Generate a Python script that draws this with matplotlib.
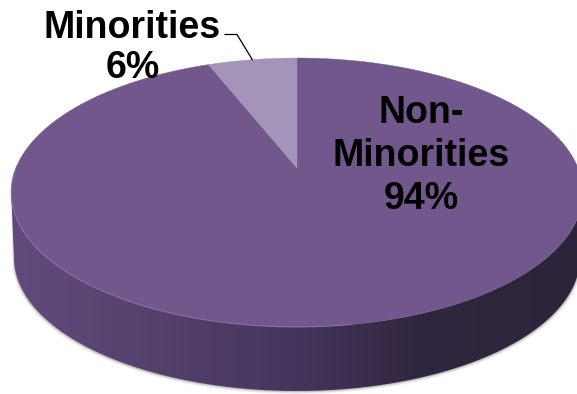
import numpy as np
import matplotlib
matplotlib.use("Agg")
import matplotlib.pyplot as plt
from matplotlib.colors import LinearSegmentedColormap
from matplotlib.patches import Polygon

plt.rcParams["font.family"] = ["Liberation Sans", "DejaVu Sans"]

# Shares of the pie, clockwise from twelve o'clock
categories = ["Non-\nMinorities", "Minorities"]
shares = [94, 6]
slice_colors = ["#71578C", "#A594BA"]

# Layout of the tilted disc, in pixels
W, H = 577, 394
CX, CY = 297.0, 168.0
K, A, C = 281.0, 130.0, 0.182


def rim(t, scale=1.0, drop=0.0):
    """Project a point of the unit circle (t clockwise from the top) with perspective."""
    x, y = np.sin(t), np.cos(t)
    d = 1 + C * y
    return np.column_stack((CX + scale * K * x / d, CY + drop - scale * A * y / d))


fig = plt.figure(figsize=(W / 100, H / 100), dpi=100)
ax = fig.add_axes([0, 0, 1, 1])
ax.set_xlim(0, W)
ax.set_ylim(H, 0)
ax.axis("off")

# Front of the cylinder
t0 = np.arccos(-C)
front = np.linspace(t0, 2 * np.pi - t0, 300)
SCALE, DROP = 0.99, 65.6
lower = rim(front, SCALE, DROP)
upper = rim(front)

# Soft shadow just outside the lower edge
for grow, alpha in [(3.0, 0.05), (2.2, 0.08), (1.4, 0.12), (0.7, 0.18)]:
    halo = lower + np.column_stack((np.sign(lower[:, 0] - CX) * grow * 0.6,
                                    np.full(len(lower), grow)))
    ax.add_patch(Polygon(np.vstack((upper[::-1], halo)), closed=True,
                         fc="#3a3a3a", ec="none", alpha=alpha, zorder=1))

wall = Polygon(np.vstack((upper[::-1], lower)), closed=True, fc="none", ec="none",
               transform=ax.transData)
ax.add_patch(wall)
wall_cmap = LinearSegmentedColormap.from_list(
    "wall",
    [(0.0, "#614B7C"), (0.2, "#57436F"), (0.5, "#45355C"),
     (0.72, "#30263F"), (1.0, "#2D2439")],
)
gradient = ax.imshow(np.linspace(0, 1, 400)[None, :], cmap=wall_cmap,
                     extent=[10, 585, H, 150], aspect="auto", zorder=2)
gradient.set_clip_path(wall)
ax.set_xlim(0, W)
ax.set_ylim(H, 0)

# Top face, with slices sized from the shares
edges = 2 * np.pi * np.cumsum([0] + shares) / sum(shares)
for start, stop, color in zip(edges[:-1], edges[1:], slice_colors):
    arc = rim(np.linspace(start, stop, 400))
    ax.add_patch(Polygon(np.vstack(([[CX, CY]], arc)), closed=True,
                         fc=color, ec=color, lw=0.3, zorder=3))

# Bevel highlight along the front-left of the rim
glow = rim(np.linspace(np.pi * 0.95, 2 * np.pi - t0 + 0.2, 300))
ax.plot(glow[:, 0], glow[:, 1], color="#8D70B0", lw=0.9, alpha=0.7, zorder=4)

# Labels
text_style = dict(fontsize=27, fontweight="bold", color="black",
                  ha="center", va="center", zorder=6)
ax.text(132, 28, categories[1], **text_style)
ax.text(133, 68, f"{shares[1]}%", **text_style)
ax.text(421, 113, "Non-", **text_style)
ax.text(421, 156, "Minorities", **text_style)
ax.text(421, 199, f"{shares[0]}%", **text_style)

# Leader from the small slice to its label
mid = (edges[1] + edges[2]) / 2
tip = rim(np.array([mid]))[0]
ax.plot([225, 237, tip[0]], [34.5, 34.5, tip[1]], color="black", lw=0.9, zorder=5)

fig.savefig("out.png", dpi=100, facecolor="white")
